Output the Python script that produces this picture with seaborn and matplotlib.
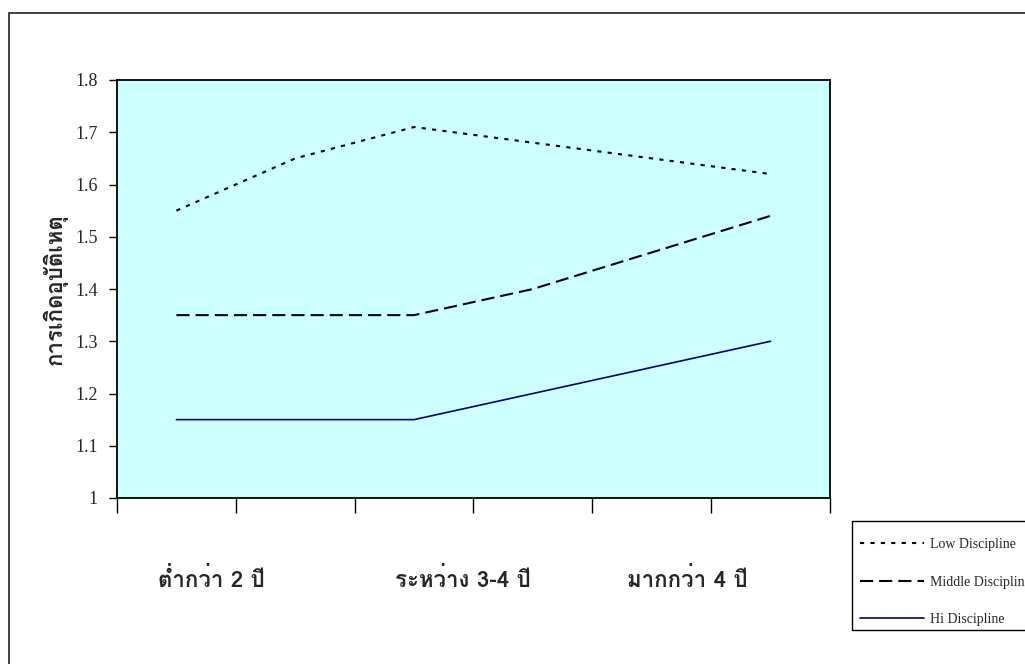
import matplotlib
matplotlib.use("Agg")
import matplotlib.pyplot as plt
import seaborn as sns
import pandas as pd
from matplotlib import font_manager
from matplotlib.ft2font import FT2Font
from matplotlib.lines import Line2D
from matplotlib.patches import Rectangle

# ---------------- data ----------------
positions = [0, 1, 2, 3, 4, 5]
low_values = [1.55, 1.65, 1.71, 1.68, 1.65, 1.62]
middle_values = [1.35, 1.35, 1.35, 1.40, 1.47, 1.54]
hi_values = [1.15, 1.15, 1.15, 1.20, 1.25, 1.30]
series_names = ["Low Discipline", "Middle Discipline", "Hi Discipline"]
category_labels = ["ต่ำกว่า 2 ปี", "ระหว่าง 3-4 ปี", "มากกว่า 4 ปี"]
category_label_pos = [0.29, 2.41, 4.30]
y_ticks = [1.0, 1.1, 1.2, 1.3, 1.4, 1.5, 1.6, 1.7, 1.8]
y_tick_labels = ["1", "1.1", "1.2", "1.3", "1.4", "1.5", "1.6", "1.7", "1.8"]
y_label = "การเกิดอุบัติเหตุ"

# ------------- find a Thai-capable font -------------
thai_regular = None
thai_bold = None
for f in font_manager.fontManager.ttflist:
    try:
        cmap = FT2Font(f.fname).get_charmap()
    except Exception:
        continue
    if 0x0E01 in cmap:
        if f.weight in ("bold", 700, "heavy") or (isinstance(f.weight, int) and f.weight >= 600):
            if thai_bold is None:
                thai_bold = f.name
        else:
            if thai_regular is None:
                thai_regular = f.name
thai_name = thai_bold or thai_regular
thai_family = ([thai_name] if thai_name else []) + ["Liberation Serif", "DejaVu Sans"]

sns.set_theme(style="white")
plt.rcParams["font.family"] = ["Liberation Serif", "DejaVu Serif"]

df = pd.DataFrame({
    "pos": positions * 3,
    "value": low_values + middle_values + hi_values,
    "series": [series_names[0]] * 6 + [series_names[1]] * 6 + [series_names[2]] * 6,
})

fig = plt.figure(figsize=(10.25, 6.64), dpi=100)
fig.patch.set_facecolor("white")
# outer chart frame
fig.patches.append(Rectangle((9 / 1025, -0.1), 1.2, 1 - 13 / 664 + 0.1,
                             transform=fig.transFigure, fill=False,
                             edgecolor="#222222", linewidth=1.2, zorder=0))
# legend frame
fig.patches.append(Rectangle((852 / 1025, 1 - 630 / 664), 0.3, (630 - 521) / 664,
                             transform=fig.transFigure, facecolor="white",
                             edgecolor="black", linewidth=1.0, zorder=1))

ax = fig.add_axes([117 / 1025, 1 - 498 / 664, (830 - 117) / 1025, (498 - 80) / 664])
ax.set_facecolor("#CCFFFF")

styles = {
    series_names[0]: dict(color="black", lw=1.5, ls=(0, (2, 3))),
    series_names[1]: dict(color="black", lw=1.5, ls=(0, (6.3, 2.9))),
    series_names[2]: dict(color="#000080", lw=1.2, ls="-"),
}
for name in series_names:
    sub = df[df["series"] == name]
    st = styles[name]
    sns.lineplot(data=sub, x="pos", y="value", ax=ax, color=st["color"],
                 linewidth=st["lw"], linestyle=st["ls"], legend=False)

ax.set_xlim(-0.5, 5.5)
ax.set_ylim(1.0, 1.8)
ax.set_xlabel("")
ax.set_ylabel(y_label, family=thai_family, fontweight="bold", fontsize=16, labelpad=5)

ax.set_yticks(y_ticks)
ax.set_yticklabels(y_tick_labels, fontsize=13)
ax.tick_params(axis="y", direction="out", length=6, width=1, color="black", pad=8, left=True)

ax.set_xticks([p - 0.5 for p in positions] + [5.5])
ax.set_xticklabels([])
ax.tick_params(axis="x", which="major", direction="out", length=11, width=1, color="black", bottom=True)
ax.set_xticks(category_label_pos, minor=True)
ax.set_xticklabels(category_labels, minor=True, family=thai_family, fontweight="bold", fontsize=16)
ax.tick_params(axis="x", which="minor", length=0, pad=50)

for s in ax.spines.values():
    s.set_visible(True)
    s.set_color("black")
    s.set_linewidth(1.3)

handles = [Line2D([], [], color=styles[n]["color"], lw=styles[n]["lw"], ls=styles[n]["ls"])
           for n in series_names]
leg = fig.legend(handles, series_names, loc="upper left",
                 bbox_to_anchor=(852 / 1025, 1 - 530 / 664),
                 bbox_transform=fig.transFigure,
                 fontsize=10, frameon=False,
                 handlelength=4.6, handletextpad=0.4, labelspacing=1.75,
                 borderpad=0.6, borderaxespad=0)
leg.set_zorder(2)

fig.savefig("out.png", dpi=100)
